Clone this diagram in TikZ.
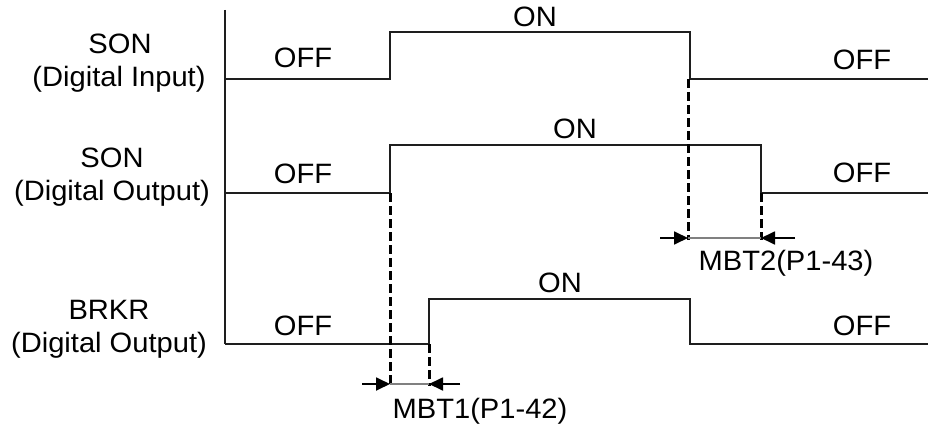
\documentclass[tikz,border=0pt]{standalone}
\usepackage{fontspec}
\setmainfont{Liberation Sans}[FakeStretch=1.04]
\usetikzlibrary{arrows.meta}
\begin{document}
\begin{tikzpicture}[x=1pt,y=-1pt,
  lbl/.style={inner sep=0pt,anchor=base,font=\fontsize{28}{32}\selectfont},
  sig/.style={line width=1.7pt,draw={rgb,255:red,30;green,30;blue,30}},
  guide/.style={line width=3pt,dash pattern=on 9pt off 4pt},
  meas/.style={line width=1.8pt,-{Triangle[length=14pt,width=13pt]}},
  gapline/.style={line width=1.4pt,draw=gray}]
\useasboundingbox (0,0) rectangle (928,425);
% axis
\coordinate (axT) at (225,10);
\coordinate (axB) at (225,344);
\draw[sig] (axT) -- (axB);
% signals
\draw[sig] (225,79) -- (390,79) -- (390,32) -- (690,32) -- (690,79) -- (928,79);
\draw[sig] (225,193) -- (390,193) -- (390,145) -- (761,145) -- (761,193) -- (928,193);
\draw[sig] (225,344) -- (429,344) -- (429,299) -- (690,299) -- (690,344) -- (928,344);
% dashed guides
\coordinate (d1t) at (688,79);  \coordinate (d1b) at (688,240);
\coordinate (d2t) at (761,193); \coordinate (d2b) at (761,240);
\coordinate (d3t) at (390,193); \coordinate (d3b) at (390,386);
\coordinate (d4t) at (429,344); \coordinate (d4b) at (429,386);
\draw[guide] (d1t) -- (d1b);
\draw[guide] (d2t) -- (d2b);
\draw[guide] (d3t) -- (d3b);
\draw[guide] (d4t) -- (d4b);
% MBT2 measure
\coordinate (m2a) at (660,238); \coordinate (m2b) at (688,238);
\coordinate (m2c) at (795,238); \coordinate (m2d) at (761,238);
\draw[gapline] (m2b) -- (m2d);
\draw[meas] (m2a) -- (m2b);
\draw[meas] (m2c) -- (m2d);
% MBT1 measure
\coordinate (m1a) at (362,384); \coordinate (m1b) at (390,384);
\coordinate (m1c) at (460,384); \coordinate (m1d) at (429,384);
\draw[gapline] (m1b) -- (m1d);
\draw[meas] (m1a) -- (m1b);
\draw[meas] (m1c) -- (m1d);
% left labels
\node[lbl] (s1a) at (120,54) {SON};
\node[lbl] (s1b) at (119,87) {(Digital Input)};
\node[lbl] (s2a) at (112,167) {SON};
\node[lbl] (s2b) at (112,200) {(Digital Output)};
\node[lbl] (s3a) at (109,319) {BRKR};
\node[lbl] (s3b) at (109,352) {(Digital Output)};
% state labels
\node[lbl] (off1l) at (303,68) {OFF};
\node[lbl] (off2l) at (303,183) {OFF};
\node[lbl] (off3l) at (303,335) {OFF};
\node[lbl] (off1r) at (862,70) {OFF};
\node[lbl] (off2r) at (862,182) {OFF};
\node[lbl] (off3r) at (862,335) {OFF};
\node[lbl] (on1) at (535,27) {ON};
\node[lbl] (on2) at (575,138) {ON};
\node[lbl] (on3) at (560,292) {ON};
\node[lbl] (mbt2) at (786,270) {MBT2(P1-43)};
\node[lbl] (mbt1) at (480,418) {MBT1(P1-42)};
\end{tikzpicture}
\end{document}
